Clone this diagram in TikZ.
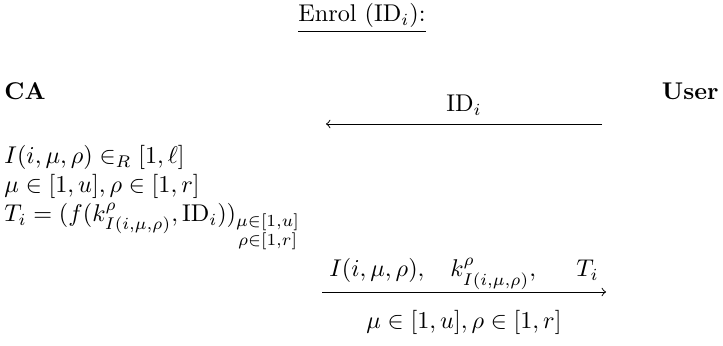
\documentclass[tikz,border=0pt]{standalone}
\usepackage{amsmath}
\usetikzlibrary{positioning}

\begin{document}
\begin{tikzpicture}[x=0.413pt, y=-0.413pt, >=to, party/.style={font=\bfseries, inner sep=0pt},
    msg/.style={->}, lbl/.style={inner sep=0pt}]
  \useasboundingbox (0,0) rectangle (723,346);

  \node[lbl, anchor=base] (title) at (362,22) {\underline{Enrol (ID$_i$):}};
  \node[party, anchor=base west] (ca) at (4,100) {CA};
  \node[party, anchor=base east] (user) at (719,100) {User};

  % request from the user
  \coordinate (req-from) at (602,124);
  \coordinate (req-to) at (326,124);
  \draw[msg] (req-from) -- node[lbl, anchor=base, yshift=5pt] (req-lbl) {ID$_i$} (req-to);

  % computation at the CA
  \node[lbl, anchor=north west, align=left] (calc) at (4,145)
    {$I(i,\mu,\rho) \in_R [1,\ell]$\\
     $\mu \in [1,u], \rho \in [1,r]$\\
     $T_i = (f(k^{\rho}_{I(i,\mu,\rho)}, \mathrm{ID}_i))_{\substack{\mu\in[1,u]\\ \rho\in[1,r]}}$};

  % reply to the user
  \coordinate (rep-from) at (322,292);
  \coordinate (rep-to) at (606,292);
  \draw[msg] (rep-from) -- node[lbl, anchor=base, yshift=6.2pt] (rep-lbl)
      {$I(i,\mu,\rho),\hspace{9pt}k^{\rho}_{I(i,\mu,\rho)},\hspace{15pt}T_i$}
    node[lbl, anchor=base, yshift=-14.9pt] (rep-range) {$\mu \in [1,u], \rho \in [1,r]$} (rep-to);

\end{tikzpicture}
\end{document}
